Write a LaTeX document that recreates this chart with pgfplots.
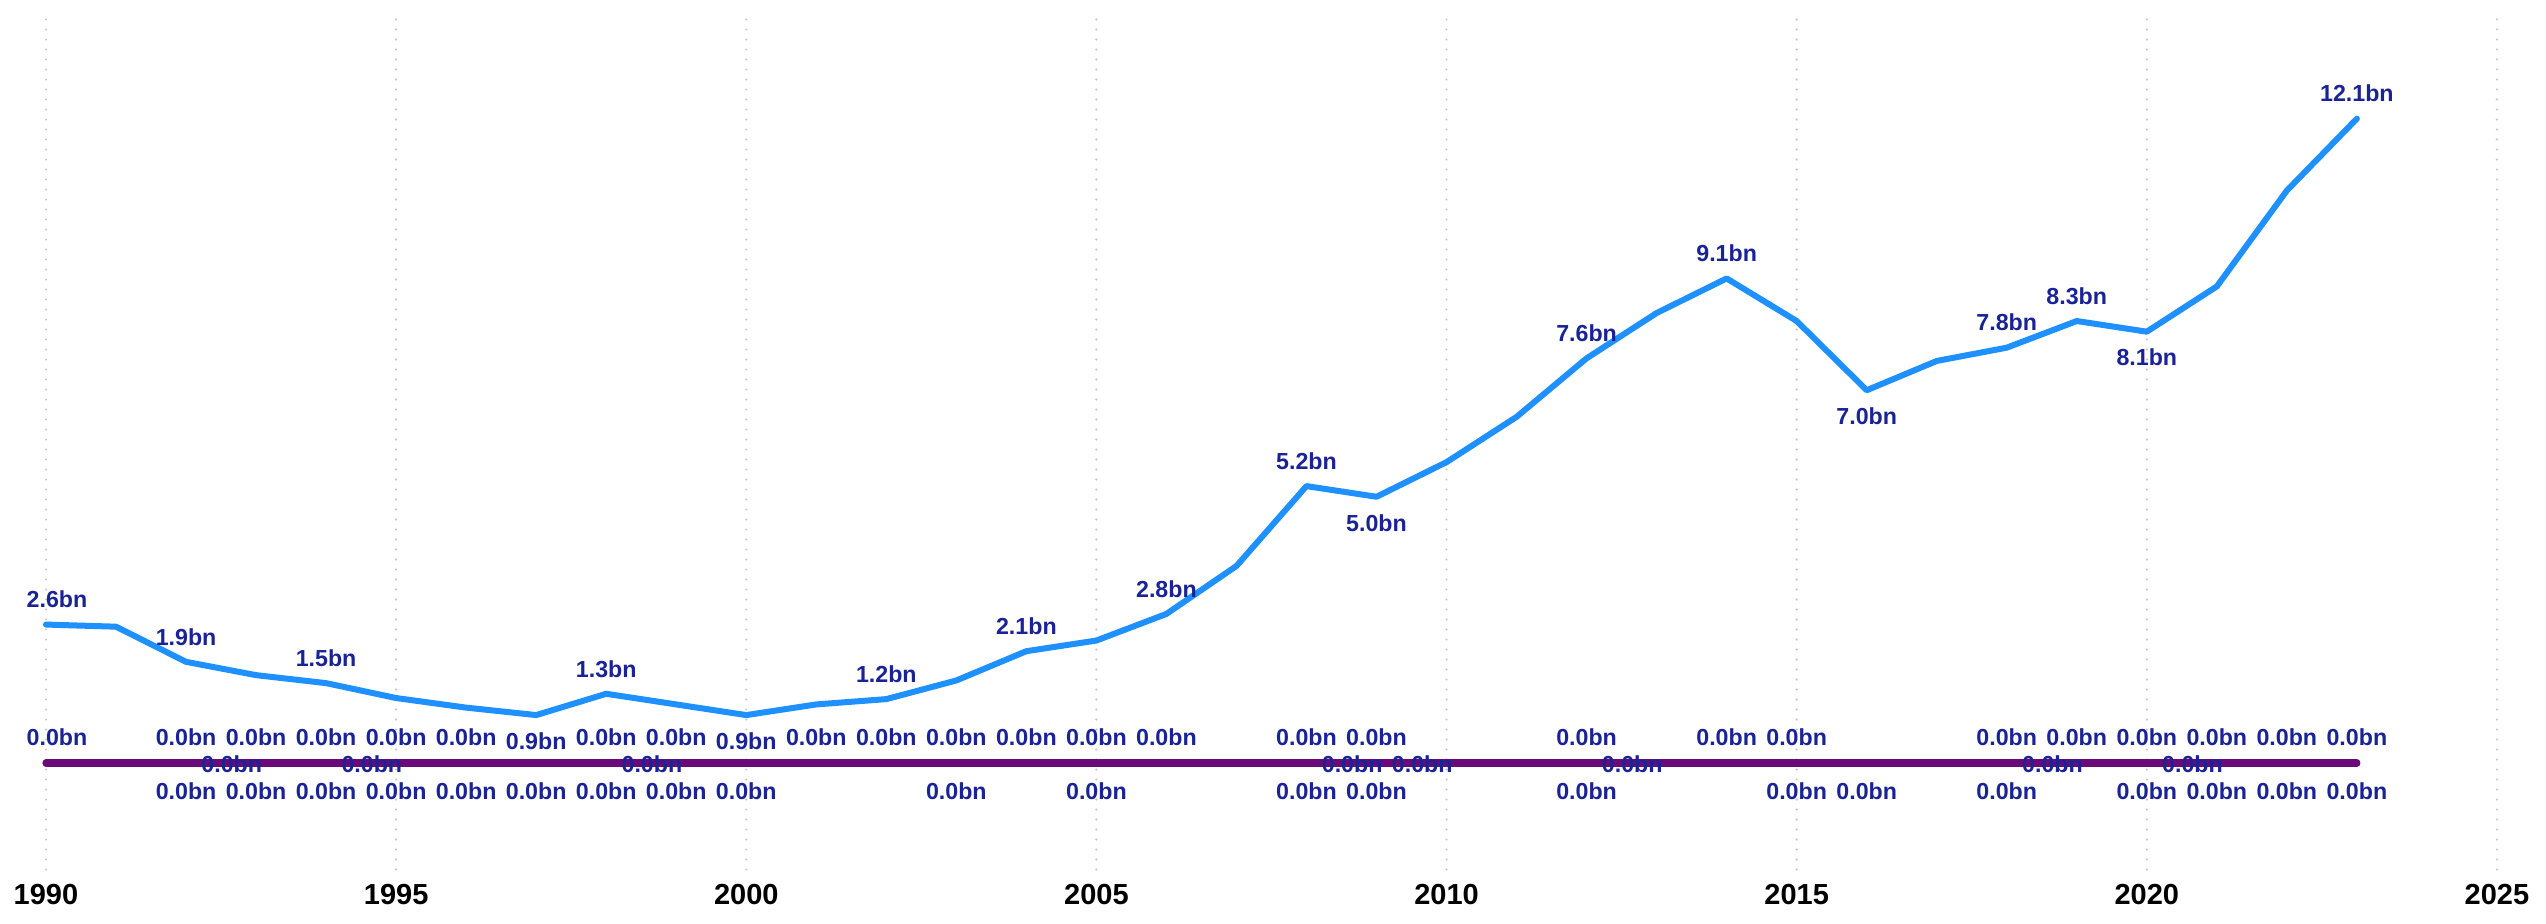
\documentclass[border=0pt]{standalone}
\usepackage{pgfplots}
\pgfplotsset{compat=1.18}
\usepackage{fontspec}
\setmainfont{Liberation Sans}

\definecolor{lineblue}{HTML}{1E90FF}
\definecolor{zeropurple}{HTML}{6A0A78}
\definecolor{lblnavy}{HTML}{1A2396}

\pgfplotsset{
  /pgf/number format/assume math mode=true,
  bnlab/.style={
    draw=none, mark=none, forget plot, point meta=y,
    nodes near coords={\pgfmathprintnumber[fixed,fixed zerofill,precision=1]{\pgfplotspointmeta}bn},
    every node near coord/.append style={font=\fontsize{11.6}{13}\selectfont\bfseries,
      text=lblnavy, inner sep=0pt, anchor=center},
  },
  labUp/.style={bnlab, every node near coord/.append style={yshift=12.5pt}},
  labDown/.style={bnlab, every node near coord/.append style={yshift=-13pt}},
  labBot/.style={bnlab, every node near coord/.append style={yshift=-14pt}},
  labMid/.style={bnlab, every node near coord/.append style={anchor=west, xshift=7.5pt, yshift=-0.5pt}},
}

\begin{document}
\begin{tikzpicture}
\begin{axis}[
    scale only axis,
    width=1225.5pt, height=426pt,
    xmin=1990, xmax=2025, ymin=-2, ymax=14,
    clip=false,
    axis line style={draw=none},
    tick style={draw=none},
    xtick={1990,1995,...,2025},
    ytick=\empty,
    xmajorgrids,
    grid style={gray!45, line width=1.2pt, dash pattern=on 0pt off 5pt, line cap=round},
    xticklabel style={font=\fontsize{14.5}{17}\selectfont\bfseries, text=black, yshift=-4pt},
    /pgf/number format/1000 sep={},
  ]

  % zero series
  \addplot[zeropurple, line width=3.6pt, line cap=round] coordinates {
    (1990,0) (1991,0) (1992,0) (1993,0) (1994,0) (1995,0) (1996,0) (1997,0)
    (1998,0) (1999,0) (2000,0) (2001,0) (2002,0) (2003,0) (2004,0) (2005,0)
    (2006,0) (2007,0) (2008,0) (2009,0) (2010,0) (2011,0) (2012,0) (2013,0)
    (2014,0) (2015,0) (2016,0) (2017,0) (2018,0) (2019,0) (2020,0) (2021,0)
    (2022,0) (2023,0)
  };

  % main series
  \addplot[lineblue, line width=3pt, line cap=round, line join=round] coordinates {
    (1990,2.6) (1991,2.56) (1992,1.9) (1993,1.65) (1994,1.5) (1995,1.22)
    (1996,1.04) (1997,0.9) (1998,1.3) (1999,1.1) (2000,0.9) (2001,1.1)
    (2002,1.2) (2003,1.55) (2004,2.1) (2005,2.3) (2006,2.8) (2007,3.7)
    (2008,5.2) (2009,5.0) (2010,5.65) (2011,6.5) (2012,7.6) (2013,8.45)
    (2014,9.1) (2015,8.3) (2016,7.0) (2017,7.55) (2018,7.8) (2019,8.3)
    (2020,8.1) (2021,8.95) (2022,10.75) (2023,12.1)
  };

  % labels on the main series
  \addplot[labUp, every node near coord/.append style={xshift=5.5pt}] coordinates {(1990,2.6)};
  \addplot[labUp] coordinates {
    (1992,1.9) (1994,1.5) (1998,1.3) (2002,1.2) (2004,2.1) (2006,2.8)
    (2008,5.2) (2012,7.6) (2014,9.1) (2018,7.8) (2019,8.3) (2023,12.1)
  };
  \addplot[labDown] coordinates {
    (1997,0.9) (2000,0.9) (2009,5.0) (2016,7.0) (2020,8.1)
  };

  % labels on the zero series
  \addplot[labUp, every node near coord/.append style={xshift=5.5pt, yshift=0.5pt}] coordinates {(1990,0)};
  \addplot[labUp, every node near coord/.append style={yshift=0.5pt}] coordinates {
    (1992,0) (1993,0) (1994,0) (1995,0) (1996,0) (1998,0) (1999,0) (2001,0)
    (2002,0) (2003,0) (2004,0) (2005,0) (2006,0) (2008,0) (2009,0) (2012,0)
    (2014,0) (2015,0) (2018,0) (2019,0) (2020,0) (2021,0) (2022,0) (2023,0)
  };
  \addplot[labBot] coordinates {
    (1992,0) (1993,0) (1994,0) (1995,0) (1996,0) (1997,0) (1998,0) (1999,0)
    (2000,0) (2003,0) (2005,0) (2008,0) (2009,0) (2012,0) (2015,0) (2016,0)
    (2018,0) (2020,0) (2021,0) (2022,0) (2023,0)
  };
  \addplot[labMid] coordinates {
    (1992,0) (1994,0) (1998,0) (2008,0) (2009,0) (2012,0) (2018,0) (2020,0)
  };
\end{axis}
\pgfresetboundingbox
\path[use as bounding box] (current axis.south west) ++(-23pt,-26.75pt) rectangle ++(1273pt,461.5pt);
\end{tikzpicture}
\end{document}
